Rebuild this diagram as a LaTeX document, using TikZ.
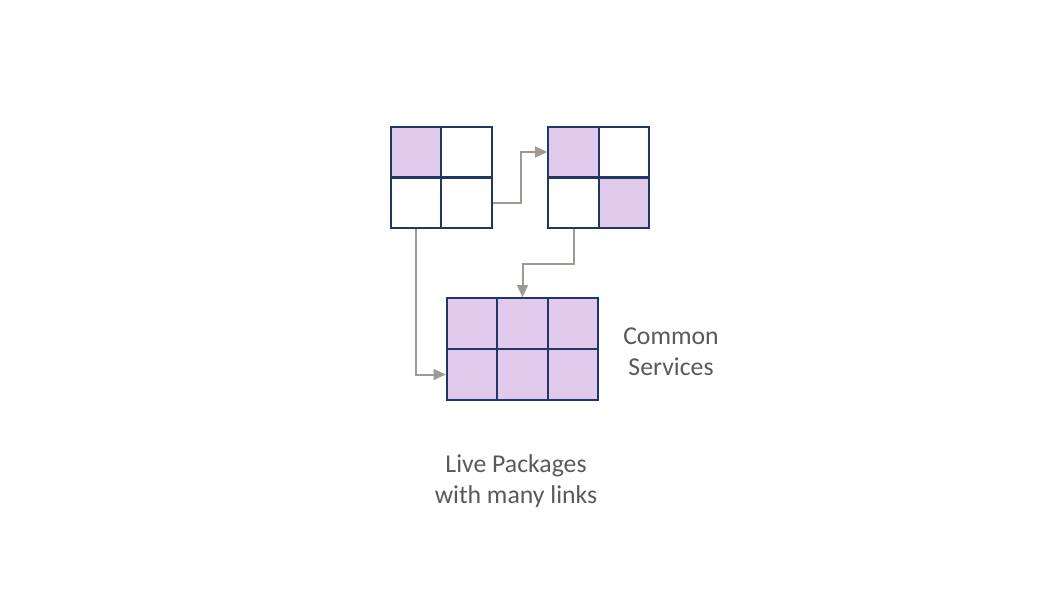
\documentclass[tikz,border=0pt]{standalone}
\usepackage{fontspec}
\setmainfont{Carlito}
\usetikzlibrary{arrows.meta}
\definecolor{cellline}{RGB}{31,56,100}
\definecolor{cellfill}{RGB}{225,201,236}
\definecolor{linkgray}{RGB}{160,152,146}
\definecolor{labelgray}{RGB}{89,89,89}
\begin{document}
\begin{tikzpicture}[
  x=0.75pt,y=-0.75pt,
  cell/.style={draw=cellline,line width=1.5pt,minimum size=37.9pt,inner sep=0pt,fill=white},
  live/.style={cell,fill=cellfill},
  flow/.style={-{Triangle[length=9pt,width=8pt]},draw=linkgray,line width=1.5pt},
  label/.style={align=center,text=labelgray,font=\fontsize{19.3}{23.5}\selectfont}
]
\useasboundingbox (0,0) rectangle (1064,602);

% first package
\node[live] (a11) at (416,152) {};
\node[cell] (a12) at (466.5,152) {};
\node[cell] (a21) at (416,203) {};
\node[cell] (a22) at (466.5,203) {};

% second package
\node[live] (b11) at (573.5,152) {};
\node[cell] (b12) at (624,152) {};
\node[cell] (b21) at (573.5,203) {};
\node[live] (b22) at (624,203) {};

% common services
\node[live] (c11) at (472,323.5) {};
\node[live] (c12) at (522.5,323.5) {};
\node[live] (c13) at (573,323.5) {};
\node[live] (c21) at (472,374.5) {};
\node[live] (c22) at (522.5,374.5) {};
\node[live] (c23) at (573,374.5) {};

\draw[flow] (a22.east) -- ++(28,0) |- (b11.west);
\draw[flow] (b21.south) -- ++(0,35) -| (c12.north);
\draw[flow] (a21.south) |- (c21.west);

\node[label] (common) at (671,352) {Common\\Services};
\node[label] (packages) at (516,481) {Live Packages\\with many links};
\end{tikzpicture}
\end{document}
